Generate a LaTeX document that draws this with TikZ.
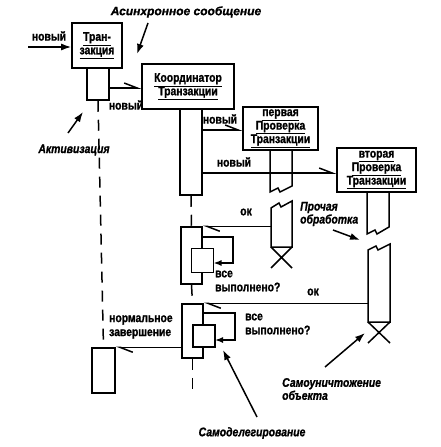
\documentclass[tikz,border=0pt]{standalone}
\usepackage{fontspec}
\setmainfont{Liberation Sans}[FakeStretch=0.83,
  BoldFeatures={FakeBold=1.2}, BoldItalicFeatures={FakeBold=1.0}]
\newfontfamily\wideface{Liberation Sans}[BoldItalicFeatures={FakeBold=1.0}]
\usetikzlibrary{arrows.meta}
\begin{document}
\begin{tikzpicture}[x=1pt,y=-1pt,
  obj/.style={draw, line width=1.6pt, fill=white, inner sep=0pt, align=center,
    font=\bfseries\fontsize{12.5}{13.5}\selectfont},
  bar/.style={draw, line width=1.5pt, fill=white, inner sep=0pt},
  lbl/.style={inner sep=0pt, align=left, font=\bfseries\fontsize{12.5}{14}\selectfont},
  note/.style={inner sep=0pt, align=left, font=\bfseries\itshape\fontsize{12.5}{13}\selectfont},
  msg/.style={line width=1.5pt, -{Straight Barb[left,length=13pt,width=10pt]}},
  ann/.style={line width=1.5pt, -{Latex[length=10pt,width=7pt]}},
  selfloop/.style={line width=1.5pt, -{Latex[length=8pt,width=6pt]}},
  life/.style={line width=1.5pt, dash pattern=on 11pt off 8pt},
  edge/.style={line width=1.5pt}
]
\useasboundingbox (0,0) rectangle (441,447);

% objects
\node[obj, minimum width=50pt, minimum height=45pt] (tr) at (97,45.5)
  {\underline{Тран-}\\\underline{закция}};
\node[obj, minimum width=92pt, minimum height=45pt] (co) at (188,86.5)
  {\underline{Координатор}\\\underline{Транзакции}};
\node[obj, minimum width=75pt, minimum height=43pt] (ch1) at (280.5,128.5)
  {\underline{первая}\\\underline{Проверка}\\\underline{Транзакции}};
\node[obj, minimum width=79pt, minimum height=44pt] (ch2) at (376.5,170)
  {\underline{вторая}\\\underline{Проверка}\\\underline{Транзакции}};

% activation bars
\node[bar, minimum width=22pt, minimum height=32pt] (trbar) at (98,84) {};
\node[bar, minimum width=22pt, minimum height=86pt] (cobar) at (191,152) {};
\node[bar, minimum width=21pt, minimum height=57pt] (act2) at (191.5,255.5) {};
\node[bar, minimum width=22pt, minimum height=24pt] (in2) at (202.5,260.5) {};
\node[bar, minimum width=21pt, minimum height=54pt] (act3) at (192.5,331) {};
\node[bar, minimum width=22pt, minimum height=22pt] (in3) at (204,336) {};
\node[bar, minimum width=23pt, minimum height=45pt] (endbox) at (103.5,370.5) {};

% broken activation of first check
\coordinate (c1L) at (270,150);
\coordinate (c1R) at (292,150);
\draw[edge] (c1L) -- (270,192) -- (278,188) -- (280,192) -- (292,186) -- (c1R);
\coordinate (c1lowL) at (271,247);
\coordinate (c1lowR) at (292,247);
\draw[edge] (c1lowL) -- (271,208) -- (279,203) -- (281,207) -- (292,201) -- (c1lowR) -- cycle;
\draw[edge] (c1lowL) -- (292,268) (c1lowR) -- (271,268);

% broken activation of second check
\coordinate (c2L) at (367,192);
\coordinate (c2R) at (389,192);
\draw[edge] (c2L) -- (367,234) -- (375,230) -- (377,234) -- (389,227) -- (c2R);
\coordinate (c2lowL) at (368,322);
\coordinate (c2lowR) at (390,322);
\draw[edge] (c2lowL) -- (368,250) -- (376,246) -- (378,250) -- (390,244) -- (c2lowR) -- cycle;
\draw[edge] (c2lowL) -- (390,343) (c2lowR) -- (368,343);

% lifelines
\draw[life] (trbar.south) -- (endbox.north);
\draw[life] (cobar.south) -- (act2.north);
\draw[life] (act2.south) -- (act3.north);
\coordinate (coend) at (192.5,390);
\draw[life] (act3.south) -- (coend);

% incoming message
\coordinate (src) at (28,47);
\draw[ann] (src) -- (tr.west |- src);
\node[lbl] (l0) at (49,36) {новый};

% messages
\coordinate (m1) at (109,88);
\draw[msg] (m1) -- (co.west |- m1);
\node[lbl] (l1) at (126,105) {новый};
\coordinate (m2) at (202,130);
\draw[msg] (m2) -- (ch1.west |- m2);
\node[lbl] (l2) at (220,119) {новый};
\coordinate (m3) at (202,173);
\draw[msg] (m3) -- (ch2.west |- m3);
\node[lbl] (l3) at (234,162) {новый};

\draw[msg] (c1lowL |- act2.north east) -- (act2.north east);
\node[lbl] (ok1) at (246,212) {ок};
\draw[msg] (c2lowL |- act3.north east) -- (act3.north east);
\node[lbl] (ok2) at (313,292) {ок};
\draw[msg] (act3.west |- endbox.north east) -- (endbox.north east);
\node[lbl, anchor=west] (lend) at (109,327) {нормальное\\завершение};

% self delegation loops
\coordinate (s2) at (202.5,237);
\coordinate (t2) at (213.5,263);
\draw[selfloop] (s2) -- (233,237) |- (t2);
\node[lbl, anchor=west] (done1) at (215,281) {все\\выполнено?};
\coordinate (s3) at (203.5,313);
\coordinate (t3) at (215,340);
\draw[selfloop] (s3) -- (235,313) |- (t3);
\node[lbl, anchor=west] (done2) at (245,324) {все\\выполнено?};

% annotations
\node[note, font=\wideface\bfseries\itshape\fontsize{12}{13}\selectfont] (nAsync) at (186,12) {Асинхронное сообщение};
\coordinate (aA1) at (148,23); \coordinate (aA2) at (137,54);
\draw[ann] (aA1) -- (aA2);
\node[note] (nAct) at (74,150) {Активизация};
\coordinate (aB1) at (68,133); \coordinate (aB2) at (83,112);
\draw[ann] (aB1) -- (aB2);
\node[note, anchor=west] (nOther) at (300,214) {Прочая\\обработка};
\coordinate (aC1) at (333,230); \coordinate (aC2) at (360,240);
\draw[ann] (aC1) -- (aC2);
\node[note, anchor=west] (nDestroy) at (282,389) {Самоуничтожение\\объекта};
\coordinate (aD1) at (325,367); \coordinate (aD2) at (365,333);
\draw[ann] (aD1) -- (aD2);
\node[note] (nSelf) at (252,433) {Самоделегирование};
\coordinate (aE1) at (257,417); \coordinate (aE2) at (223,350);
\draw[ann] (aE1) -- (aE2);
\end{tikzpicture}
\end{document}
